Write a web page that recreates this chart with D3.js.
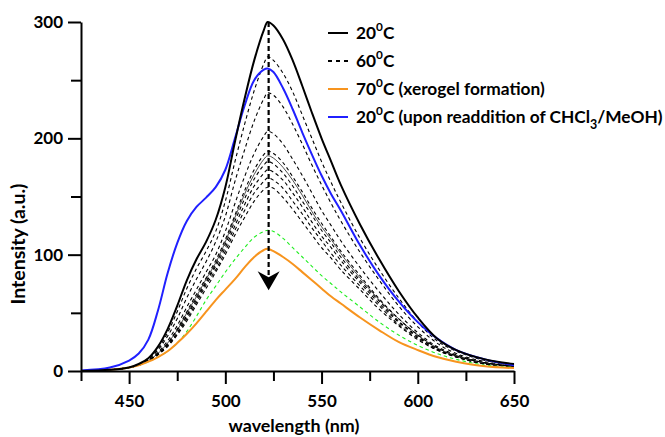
<!DOCTYPE html>
<html><head><meta charset="utf-8">
<script src="https://cdn.jsdelivr.net/npm/d3@7"></script>
<style>
body{margin:0;background:#fff;}
svg{display:block;}
text{font-family:Lato,"Open Sans",sans-serif;font-weight:700;fill:#000;}
</style>
</head><body>
<svg id="c" width="665" height="437"></svg>
<script>
// ---------- data ----------
const wavelength = [425,440,450,455,460,465,470,475,480,485,490,495,500,505,510,515,520,522,525,530,535,540,545,550,555,560,570,580,590,600,610,620,635,650];

const black20 = [0,1,3,6,11,21,36,56,78,96, 111,130,158,197,234,267,293,300,297,285, 267,245,222,200,180,160,126,96,69,46, 28,18,10,6];
const blueReadd = [0.5,3,9,15,27,52,84,110,129,141, 149,158,173,200,228,250,259,260,257,243, 225,205,186,168,152,138,108,82,60,42, 28,18,10,5];
const green = [0,1,3,5,8,12,17,24,34,47, 61,73,85,96,106,115,120,121,120,114, 106,98,90,82,75,68,55,42,31,22, 15,10,5,3];
const orange70 = [0,1,3,5,8,12,17,24,32,41, 51,61,70,79,89,98,104,105,103,98, 92,85,78,71,64,58,46,35,25,18, 12,8,4,2.5];

const dashed1 = [0,1,3,6,10,19,33,51,71,88, 103,120,146,180,212,241,264,270,267,256, 240,220,200,180,162,145,114,87,63,42, 26,17,9,5];
const dashed2 = [0,1,3,6,10,18,30,45,63,79, 94,111,133,163,190,215,234,239,237,227, 212,195,177,160,144,129,102,78,56,38, 24,15,8,5];
const dashed3 = [0,1,3,5,9,16,26,39,55,70, 85,100,120,144,167,187,202,206,204,195, 182,168,153,138,125,112,89,68,49,33, 21,14,7,4];
const dashed4 = [0,1,3,5,9,15,24,36,51,66, 80,95,113,134,155,173,186,189,187,179, 167,154,140,127,115,103,82,62,45,31, 20,13,7,4];
const thinSolid = [0,1,3,5,9,15,24,35,50,64, 79,93,111,132,152,169,182,185,183,175, 164,151,137,124,113,101,80,61,45,31, 20,13,7,4];
const dashed5 = [0,1,3,5,9,15,23,35,48,63, 77,92,109,129,148,165,177,180,178,170, 159,146,134,121,110,98,78,60,43,30, 19,13,7,4];
const dashed6 = [0,1,3,5,9,15,22,33,47,61, 76,90,106,125,143,159,170,173,171,164, 153,141,128,116,106,95,76,58,42,29, 19,12,6,4];
const dashed7 = [0,1,3,5,9,14,22,32,45,59, 74,87,103,121,138,153,163,166,164,157, 146,135,123,112,101,91,73,56,40,28, 18,12,6,4];
const dashed8 = [0,1,3,5,9,14,21,31,43,57, 71,85,100,117,132,146,156,158,157,149, 139,128,117,106,97,87,70,53,39,27, 18,12,6,4];

const xMajorTicks = [450,500,550,600,650];
const xMinorTicks = [425,475,525,575,625];
const yMajorTicks = [0,100,200,300];
const yMinorTicks = [50,150,250];

const legendTemps = ["20","60","70","20"];
const legendRest = ["", "", " (xerogel formation)", " (upon readdition of CHCl"];
const arrowWavelength = 522.5;
const arrowFrom = 300, arrowTo = 69.5;

// ---------- chart ----------
const svg = d3.select("#c");
const x = d3.scaleLinear().domain([425,650]).range([81,514]);
const y = d3.scaleLinear().domain([0,300]).range([371,22]);

const line = d3.line()
  .x((d,i)=>x(wavelength[i]))
  .y(d=>y(d))
  .curve(d3.curveCatmullRom.alpha(0.5));

const series = [
  {v:dashed8, c:"#000", w:1.1, dash:"3.5,3"},
  {v:dashed7, c:"#000", w:1.1, dash:"3.5,3"},
  {v:dashed6, c:"#000", w:1.1, dash:"3.5,3"},
  {v:dashed5, c:"#000", w:1.1, dash:"3.5,3"},
  {v:thinSolid, c:"#222", w:0.8, dash:null},
  {v:dashed4, c:"#000", w:1.1, dash:"3.5,3"},
  {v:dashed3, c:"#000", w:1.1, dash:"3.5,3"},
  {v:dashed2, c:"#000", w:1.1, dash:"3.5,3"},
  {v:dashed1, c:"#000", w:1.1, dash:"3.5,3"},
  {v:green, c:"#22ee22", w:1.1, dash:"3.5,3"},
  {v:orange70, c:"#f7941e", w:2, dash:null},
  {v:blueReadd, c:"#2020ff", w:2, dash:null},
  {v:black20, c:"#000", w:2, dash:null}
];

svg.append("g").selectAll("path").data(series).join("path")
  .attr("d", d=>line(d.v))
  .attr("fill","none")
  .attr("stroke", d=>d.c)
  .attr("stroke-width", d=>d.w)
  .attr("stroke-dasharray", d=>d.dash)
  .attr("stroke-linejoin","round");

// arrow
const ax = x(arrowWavelength), tipY = y(arrowTo);
svg.append("line")
  .attr("x1",ax).attr("x2",ax)
  .attr("y1",y(arrowFrom)).attr("y2",tipY-12)
  .attr("stroke","#000").attr("stroke-width",2.2).attr("stroke-dasharray","5,3");
svg.append("path")
  .attr("d",`M${ax},${tipY} L${ax-11},${tipY-19} L${ax},${tipY-13} L${ax+11},${tipY-19} Z`)
  .attr("fill","#000");

// axes
const fs = 17;
function styleAxis(g){
  g.attr("font-family",null).attr("font-size",null);
  g.select(".domain").attr("stroke","#000").attr("stroke-width",2);
  g.selectAll(".tick line").attr("stroke","#000").attr("stroke-width",2);
  g.selectAll(".tick text").attr("font-size",fs);
}
const gxMinor = svg.append("g").attr("transform","translate(0,371)")
  .call(d3.axisBottom(x).tickValues(xMinorTicks).tickSize(10).tickFormat("").tickSizeOuter(0));
styleAxis(gxMinor); gxMinor.select(".domain").remove();
const gx = svg.append("g").attr("transform","translate(0,371)")
  .call(d3.axisBottom(x).tickValues(xMajorTicks).tickSize(13).tickPadding(11).tickFormat(d3.format("d")).tickSizeOuter(0));
styleAxis(gx);

const gyMinor = svg.append("g").attr("transform","translate(81,0)")
  .call(d3.axisLeft(y).tickValues(yMinorTicks).tickSize(10).tickFormat("").tickSizeOuter(0));
styleAxis(gyMinor); gyMinor.select(".domain").remove();
const gy = svg.append("g").attr("transform","translate(81,0)")
  .call(d3.axisLeft(y).tickValues(yMajorTicks).tickSize(13).tickPadding(5).tickFormat(d3.format("d")).tickSizeOuter(0));
styleAxis(gy);

// axis titles
function fit(sel, target){
  const w = sel.node().getComputedTextLength();
  sel.attr("font-size", parseFloat(sel.attr("font-size"))*target/w);
}
const xt = svg.append("text").attr("x",294).attr("y",432).attr("text-anchor","middle")
  .attr("font-size",16).text("wavelength (nm)");
fit(xt,131);
const yt = svg.append("text").attr("transform","translate(25,244) rotate(-90)").attr("text-anchor","middle")
  .attr("font-size",16).text("Intensity (a.u.)");
fit(yt,121);

// legend
const legRows = [33,61,89,117];
const legStyles = [
  {c:"#000", dash:null},
  {c:"#000", dash:"4,4"},
  {c:"#f7941e", dash:null},
  {c:"#2020ff", dash:null}
];
const lg = svg.append("g");
legRows.forEach((ry,i)=>{
  lg.append("line").attr("x1",328).attr("x2",348).attr("y1",ry).attr("y2",ry)
    .attr("stroke",legStyles[i].c).attr("stroke-width",2).attr("stroke-dasharray",legStyles[i].dash);
});
const legTexts = legRows.map((ry,i)=>{
  const t = lg.append("text").attr("x",356).attr("y",ry+6).attr("font-size",16);
  t.append("tspan").text(legendTemps[i]);
  t.append("tspan").attr("font-size","0.68em").attr("dy","-0.7em").text("0");
  t.append("tspan").attr("dy","0.476em").text("C" + legendRest[i]);
  if(i===3){
    t.append("tspan").attr("font-size","0.72em").attr("dy","0.5em").text("3");
    t.append("tspan").attr("dy","-0.36em").text("/MeOH)");
  }
  return t;
});
const wLast = legTexts[3].node().getComputedTextLength();
const legFs = 16*307/wLast;
legTexts.forEach(t=>t.attr("font-size",legFs));
</script>
</body></html>
